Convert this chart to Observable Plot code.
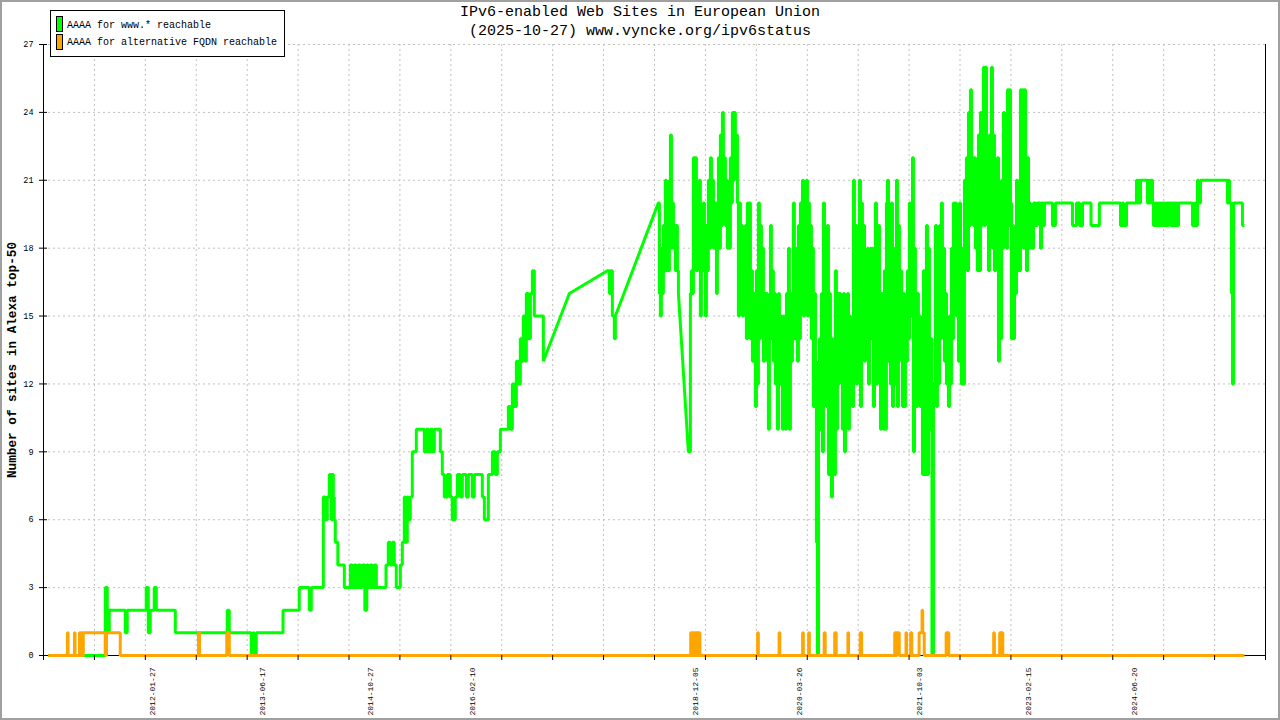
<!DOCTYPE html>
<html><head><meta charset="utf-8">
<script src="https://cdn.jsdelivr.net/npm/d3@7"></script>
<script src="https://cdn.jsdelivr.net/npm/@observablehq/plot@0.6"></script>
<style>
html,body{margin:0;padding:0;background:#fff;}
#wrap{position:relative;width:1280px;height:720px;overflow:hidden;font-family:"Liberation Mono","DejaVu Sans Mono",monospace;color:#000;}
#chart svg{display:block;}
#frame{position:absolute;left:0;top:0;width:1280px;height:720px;box-sizing:border-box;border:2px solid #a0a0a0;pointer-events:none;}
#title{position:absolute;left:0;top:3px;width:1280px;text-align:center;font-size:15px;line-height:19px;white-space:pre;}
#legend{position:absolute;left:50px;top:10px;width:235px;height:47px;box-sizing:border-box;border:1px solid #000;background:#fff;font-size:10px;}
.sw{position:absolute;left:5px;width:5px;height:14px;border:1px solid #000;}
.lt{position:absolute;left:16px;line-height:12px;white-space:pre;}
#ylabel{position:absolute;left:13px;top:360px;transform:translate(-50%,-50%) rotate(-90deg);font-weight:bold;font-size:12.7px;line-height:14px;white-space:nowrap;}
</style></head>
<body>
<div id="wrap">
  <div id="chart"></div>
  <div id="title"></div>
  <div id="legend"></div>
  <div id="ylabel"></div>
  <div id="frame"></div>
</div>
<script>
// ---- text ----
const titleLines = ["IPv6-enabled Web Sites in European Union", "(2025-10-27) www.vyncke.org/ipv6status"];
const yAxisLabel = "Number of sites in Alexa top-50";
const seriesNames = ["AAAA for www.* reachable", "AAAA for alternative FQDN reachable"];
const seriesColors = ["#00ff00", "#ffa500"];

// ---- axes ----
const yTicks = [0, 3, 6, 9, 12, 15, 18, 21, 24, 27];
const xLabelDates = ["2012-01-27", "2013-06-17", "2014-10-27", "2016-02-10", "2018-12-05", "2020-03-26", "2021-10-03", "2023-02-15", "2024-06-20"];
const xDomain = [2010.660, 2026.088]; // decimal years
const xTickCount = 24;

// ---- data: [decimal year, value]; each value holds until the next reading ----
// readings after which the line runs straight to the next reading (gaps in sampling)
const wwwSlopeFrom = [2016.971, 2017.299, 2017.880, 2018.676];
const wwwRuns = [
[2010.720,0],[2011.440,3],[2011.465,2],[2011.477,1],[2011.490,2],[2011.692,1],[2011.717,2],[2011.957,3],[2011.983,1],[2012.008,2],
[2012.058,3],[2012.084,2],[2012.324,1],[2012.980,2],[2013.005,1],[2013.283,0],[2013.309,1],[2013.321,0],[2013.346,1],[2013.684,2],
[2013.889,3],[2014.016,2],[2014.041,3],[2014.193,7],[2014.218,6],[2014.243,7],[2014.268,8],[2014.293,6],[2014.306,8],[2014.319,7],
[2014.331,6],[2014.344,5],[2014.376,4],[2014.458,3],[2014.534,4],[2014.559,3],[2014.584,4],[2014.609,3],[2014.635,4],[2014.660,3],
[2014.685,4],[2014.717,2],[2014.742,4],[2014.761,3],[2014.786,4],[2014.811,3],[2014.837,4],[2014.862,3],[2014.984,4],[2015.013,5],
[2015.039,4],[2015.064,5],[2015.089,4],[2015.114,3],[2015.165,4],[2015.190,5],[2015.215,7],[2015.228,5],[2015.253,7],[2015.266,6],
[2015.291,7],[2015.316,9],[2015.367,10],[2015.468,9],[2015.493,10],[2015.518,9],[2015.544,10],[2015.569,9],[2015.594,10],[2015.670,9],
[2015.695,8],[2015.720,7],[2015.758,8],[2015.796,7],[2015.821,6],[2015.859,7],[2015.885,8],[2015.923,7],[2015.948,8],[2015.999,7],
[2016.024,8],[2016.074,7],[2016.099,8],[2016.200,7],[2016.226,6],[2016.276,8],[2016.327,9],[2016.365,8],[2016.390,9],[2016.428,10],
[2016.529,11],[2016.554,10],[2016.579,12],[2016.605,11],[2016.630,13],[2016.655,12],[2016.680,14],[2016.693,13],[2016.718,15],[2016.743,13],
[2016.756,16],[2016.781,14],[2016.807,16],[2016.832,17],[2016.857,15],[2016.971,13],[2017.299,16],[2017.779,17],[2017.804,16],[2017.817,17],
[2017.842,15],[2017.867,14],[2017.880,15],
[2018.423,20],[2018.436,16],[2018.448,15],[2018.461,18],[2018.474,16],[2018.486,19],[2018.499,17],[2018.511,21],[2018.524,17],[2018.537,20],
[2018.549,17],[2018.562,21],[2018.575,23],[2018.588,18],[2018.600,20],[2018.613,18],[2018.626,19],[2018.638,17],[2018.651,19],[2018.663,17],
[2018.676,16],[2018.802,9],[2018.827,16],[2018.840,17],[2018.852,16],[2018.865,22],[2018.878,18],[2018.890,22],[2018.903,17],[2018.915,20],
[2018.928,18],[2018.941,21],[2018.953,15],[2018.966,18],[2018.979,17],[2018.991,20],[2019.004,18],[2019.017,15],[2019.029,19],[2019.042,17],
[2019.054,21],[2019.067,18],[2019.080,22],[2019.093,19],[2019.105,21],[2019.118,18],[2019.130,20],[2019.156,16],[2019.168,19],[2019.181,22],
[2019.193,18],[2019.206,23],[2019.219,19],[2019.231,24],[2019.244,20],[2019.257,22],[2019.269,19],[2019.282,21],[2019.294,18],[2019.307,19],
[2019.320,18],[2019.332,22],[2019.345,20],[2019.357,24],[2019.370,21],[2019.383,24],[2019.395,22],[2019.408,23],[2019.421,20],[2019.433,15],
[2019.446,20],[2019.459,16],[2019.471,19],[2019.484,15],[2019.497,18],[2019.509,16],[2019.522,19],[2019.534,14],[2019.547,20],[2019.560,15],
[2019.572,20],[2019.585,14],[2019.598,17],[2019.610,13],[2019.623,16],[2019.636,14],[2019.648,11],[2019.661,17],[2019.673,12],[2019.686,20],
[2019.699,14],[2019.711,19],[2019.724,15],[2019.736,18],[2019.749,13],[2019.762,16],[2019.774,14],[2019.787,16],[2019.800,13],[2019.812,10],
[2019.825,15],[2019.838,19],[2019.850,14],[2019.863,17],[2019.875,13],[2019.888,16],[2019.901,12],[2019.913,15],[2019.926,10],[2019.939,16],
[2019.951,12],[2019.964,15],[2019.977,13],[2019.989,10],[2020.002,15],[2020.014,13],[2020.027,10],[2020.040,16],[2020.052,12],[2020.065,18],
[2020.077,10],[2020.090,16],[2020.103,13],[2020.115,15],[2020.128,20],[2020.140,14],[2020.153,18],[2020.166,15],[2020.178,13],[2020.191,19],
[2020.204,14],[2020.216,20],[2020.229,16],[2020.242,21],[2020.254,15],[2020.267,19],[2020.279,17],[2020.292,21],[2020.305,15],[2020.317,20],
[2020.330,16],[2020.343,19],[2020.355,14],[2020.368,18],[2020.380,11],[2020.393,16],[2020.406,13],[2020.418,5],[2020.431,0],[2020.444,12],
[2020.456,14],[2020.469,10],[2020.482,16],[2020.494,9],[2020.507,20],[2020.520,12],[2020.532,15],[2020.545,11],[2020.557,19],[2020.570,8],
[2020.583,16],[2020.595,12],[2020.608,7],[2020.621,14],[2020.633,11],[2020.646,8],[2020.658,17],[2020.671,10],[2020.684,16],[2020.696,12],
[2020.709,16],[2020.722,13],[2020.734,15],[2020.747,10],[2020.760,16],[2020.772,9],[2020.785,15],[2020.797,12],[2020.810,16],[2020.823,10],
[2020.835,15],[2020.848,12],[2020.861,14],[2020.873,11],[2020.886,21],[2020.898,15],[2020.911,19],[2020.924,12],[2020.936,18],[2020.949,14],
[2020.962,21],[2020.974,11],[2020.987,20],[2020.999,15],[2021.012,19],[2021.025,13],[2021.037,17],[2021.050,14],[2021.062,18],[2021.075,12],
[2021.088,17],[2021.100,18],[2021.113,14],[2021.126,18],[2021.138,11],[2021.151,15],[2021.164,20],[2021.176,12],[2021.189,16],[2021.201,19],
[2021.214,14],[2021.227,10],[2021.239,16],[2021.252,12],[2021.265,10],[2021.277,17],[2021.290,10],[2021.302,20],[2021.315,21],[2021.328,13],
[2021.340,17],[2021.353,12],[2021.365,20],[2021.378,11],[2021.391,18],[2021.403,14],[2021.416,12],[2021.429,21],[2021.441,11],[2021.454,19],
[2021.466,14],[2021.479,17],[2021.492,13],[2021.504,11],[2021.517,16],[2021.529,11],[2021.542,15],[2021.555,13],[2021.567,17],[2021.580,14],
[2021.593,20],[2021.605,15],[2021.618,20],[2021.631,22],[2021.643,9],[2021.656,18],[2021.668,14],[2021.681,11],[2021.694,16],[2021.706,12],
[2021.719,15],[2021.732,11],[2021.744,14],[2021.757,8],[2021.770,17],[2021.782,8],[2021.795,13],[2021.807,19],[2021.820,8],[2021.833,18],
[2021.845,10],[2021.858,14],[2021.877,0],[2021.896,12],[2021.921,19],[2021.934,11],[2021.946,17],[2021.959,12],[2021.972,19],[2021.984,14],
[2021.997,20],[2022.009,15],[2022.022,18],[2022.035,13],[2022.047,16],[2022.060,12],[2022.073,14],[2022.085,11],[2022.098,15],[2022.110,12],
[2022.123,18],[2022.136,14],[2022.148,20],[2022.161,16],[2022.174,20],[2022.186,15],[2022.199,18],[2022.211,13],[2022.224,20],[2022.237,15],
[2022.249,12],[2022.262,18],[2022.274,12],[2022.287,21],[2022.300,18],[2022.312,22],[2022.325,17],[2022.338,24],[2022.350,19],[2022.363,25],
[2022.376,20],[2022.388,22],[2022.401,19],[2022.413,22],[2022.426,18],[2022.439,20],[2022.451,17],[2022.464,23],[2022.477,17],[2022.489,24],
[2022.502,19],[2022.514,22],[2022.527,26],[2022.540,19],[2022.552,26],[2022.565,20],[2022.578,22],[2022.590,17],[2022.603,23],[2022.616,19],
[2022.628,26],[2022.641,18],[2022.654,23],[2022.666,17],[2022.679,21],[2022.691,18],[2022.704,22],[2022.717,13],[2022.729,20],[2022.742,14],
[2022.755,21],[2022.767,18],[2022.780,24],[2022.793,20],[2022.805,22],[2022.818,18],[2022.830,25],[2022.843,19],[2022.856,25],[2022.868,20],
[2022.881,14],[2022.894,19],[2022.906,14],[2022.919,18],[2022.931,16],[2022.944,21],[2022.957,17],[2022.969,20],[2022.982,17],[2022.994,25],
[2023.007,19],[2023.020,25],[2023.032,18],[2023.045,25],[2023.058,20],[2023.070,17],[2023.083,22],[2023.096,18],[2023.108,20],[2023.121,18],
[2023.133,19],[2023.146,18],[2023.159,20],[2023.184,19],[2023.209,20],[2023.247,18],[2023.260,20],[2023.285,19],[2023.297,20],[2023.398,19],
[2023.436,20],[2023.651,19],[2023.702,20],[2023.740,19],[2023.778,20],[2023.885,19],[2023.991,20],[2024.257,19],[2024.282,20],[2024.295,19],
[2024.333,20],[2024.459,21],[2024.472,20],[2024.484,21],[2024.497,20],[2024.510,21],[2024.598,20],[2024.611,21],[2024.623,20],[2024.636,21],
[2024.661,20],[2024.674,19],[2024.687,20],[2024.699,19],[2024.712,20],[2024.724,19],[2024.737,20],[2024.750,19],[2024.762,20],[2024.775,19],
[2024.788,20],[2024.800,19],[2024.813,20],[2024.825,19],[2024.838,20],[2024.851,19],[2024.863,20],[2024.889,19],[2024.901,20],[2024.914,19],
[2024.927,20],[2024.952,19],[2024.964,20],[2024.977,19],[2024.990,20],[2025.166,19],[2025.192,20],[2025.204,19],[2025.229,21],[2025.242,20],
[2025.267,21],[2025.608,20],[2025.621,21],[2025.633,20],[2025.659,16],[2025.671,12],[2025.684,20],[2025.797,19],[2025.822,19]
];
const altSlopeFrom = [];
const altRuns = [
[2010.720,0],[2010.962,1],[2010.970,0],[2011.051,1],[2011.058,0],[2011.114,1],[2011.126,0],[2011.137,1],[2011.149,0],[2011.162,1],
[2011.443,0],[2011.455,1],[2011.629,0],[2012.617,1],[2012.630,0],[2012.974,1],[2013.006,0],
[2018.831,1],[2018.852,0],[2018.862,1],[2018.884,0],[2018.894,1],[2018.916,0],[2018.925,1],[2018.947,0],
[2019.676,1],[2019.685,0],[2019.947,1],[2019.956,0],[2020.244,1],[2020.253,0],[2020.320,1],[2020.329,0],
[2020.516,1],[2020.529,0],[2020.649,1],[2020.668,0],[2020.816,1],[2020.824,0],[2020.971,1],[2020.989,0],
[2021.407,1],[2021.426,0],[2021.436,1],[2021.464,0],[2021.549,1],[2021.556,0],[2021.608,1],[2021.622,0],
[2021.715,1],[2021.752,2],[2021.760,1],[2021.780,0],[2022.056,1],[2022.089,0],[2022.656,1],[2022.665,0],
[2022.732,1],[2022.747,0],[2022.756,1],[2022.771,0],[2025.822,0]
];

// ---- helpers ----
function decimalYear(s) {
  const [y, m, d] = s.split("-").map(Number);
  const t = Date.UTC(y, m - 1, d), t0 = Date.UTC(y, 0, 1), t1 = Date.UTC(y + 1, 0, 1);
  return y + (t - t0) / (t1 - t0);
}
function expand(runs, slopeFrom) {
  const pts = [];
  runs.forEach(([t, v], i) => {
    pts.push({t, v});
    const next = runs[i + 1];
    if (next && !slopeFrom.includes(t)) pts.push({t: next[0], v});
  });
  return pts;
}
const wwwPts = expand(wwwRuns, wwwSlopeFrom);
const altPts = expand(altRuns, altSlopeFrom);
const xTickPos = d3.range(xTickCount + 1).map(i => xDomain[0] + (xDomain[1] - xDomain[0]) * i / xTickCount);
const xLabels = xLabelDates.map(s => ({t: decimalYear(s), label: s}));

const grid = {stroke: "#c0c0c0", strokeOpacity: 1, strokeDasharray: "2,3", strokeWidth: 1};
const chart = Plot.plot({
  width: 1280, height: 720,
  marginLeft: 43, marginRight: 15, marginTop: 44, marginBottom: 65,
  x: {domain: xDomain, label: null},
  y: {domain: [0, 27], label: null},
  style: {fontFamily: "'Liberation Mono','DejaVu Sans Mono',monospace", fontSize: "8.5px", background: "#fff", color: "#000"},
  marks: [
    Plot.gridY(yTicks.filter(v => v > 0), grid),
    Plot.gridX(xTickPos.slice(1, -1), grid),
    Plot.ruleY([0], {stroke: "#000"}),
    Plot.ruleX([xDomain[0]], {stroke: "#000"}),
    Plot.ruleX([xDomain[1]], {stroke: "#000"}),
    Plot.line(wwwPts, {x: "t", y: "v", stroke: seriesColors[0], strokeWidth: 3, strokeLinejoin: "miter", strokeLinecap: "butt"}),
    Plot.line(altPts, {x: "t", y: "v", stroke: seriesColors[1], strokeWidth: 3, strokeLinejoin: "miter", strokeLinecap: "butt"}),
    Plot.axisY({ticks: yTicks, tickSize: 8, dx: 4, tickPadding: 6, label: null, fontSize: 8.5}),
    Plot.axisX({ticks: xTickPos, tickSize: 5, tickFormat: () => "", label: null}),
    Plot.text(xLabels, {x: "t", text: "label", frameAnchor: "bottom", rotate: -90, textAnchor: "end", dy: 12, fontSize: 8})
  ]
});
document.getElementById("chart").appendChild(chart);

document.getElementById("title").textContent = titleLines.join("\n");
document.getElementById("ylabel").textContent = yAxisLabel;
const legend = document.getElementById("legend");
seriesNames.forEach((name, i) => {
  const sw = document.createElement("div");
  sw.className = "sw";
  sw.style.top = (5 + i * 18) + "px";
  sw.style.background = seriesColors[i];
  legend.appendChild(sw);
  const lt = document.createElement("div");
  lt.className = "lt";
  lt.style.top = (9 + i * 17.3) + "px";
  lt.textContent = name;
  legend.appendChild(lt);
});
</script>
</body></html>
